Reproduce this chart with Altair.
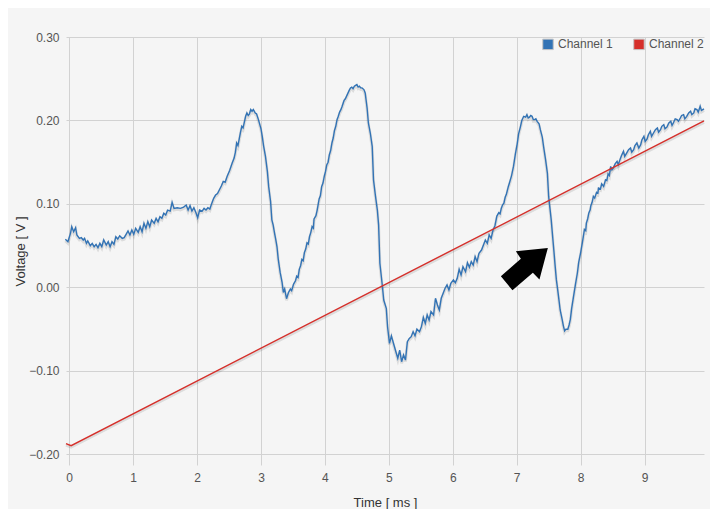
import altair as alt
import pandas as pd

# ---- data ----
series_names = ["Channel 1", "Channel 2"]
series_colors = ["#3273b5", "#d62f2a"]

ch1 = [
    # slow wander, 0 - 2.3 ms
    (-0.06, 0.0576), (-0.02, 0.0548), (0.02, 0.0648), (0.04, 0.0727), (0.07, 0.0667),
    (0.10, 0.0715), (0.12, 0.0628), (0.16, 0.0588), (0.19, 0.0596), (0.22, 0.0568),
    (0.24, 0.0588), (0.27, 0.0528), (0.29, 0.0556), (0.33, 0.0500), (0.36, 0.0528),
    (0.39, 0.0488), (0.42, 0.0516), (0.45, 0.0476), (0.48, 0.0528), (0.51, 0.0488),
    (0.54, 0.0568), (0.58, 0.0508), (0.61, 0.0548), (0.64, 0.0488), (0.67, 0.0548),
    (0.70, 0.0516), (0.73, 0.0607), (0.76, 0.0580), (0.79, 0.0619), (0.83, 0.0588),
    (0.86, 0.0596), (0.89, 0.0636), (0.92, 0.0676), (0.95, 0.0628), (0.98, 0.0688),
    (1.01, 0.0636), (1.04, 0.0708), (1.08, 0.0660), (1.11, 0.0727), (1.14, 0.0667),
    (1.17, 0.0768), (1.20, 0.0708), (1.23, 0.0787), (1.26, 0.0727), (1.29, 0.0807),
    (1.33, 0.0768), (1.36, 0.0828), (1.39, 0.0787), (1.42, 0.0847), (1.45, 0.0828),
    (1.48, 0.0888), (1.51, 0.0867), (1.54, 0.0927), (1.58, 0.0915), (1.61, 0.1019),
    (1.64, 0.0947), (1.69, 0.0955), (1.74, 0.0947), (1.79, 0.0963), (1.83, 0.0987),
    (1.86, 0.0927), (1.89, 0.0979), (1.92, 0.0915), (1.95, 0.0955), (1.98, 0.0900),
    (2.01, 0.0835), (2.04, 0.0927), (2.08, 0.0915), (2.11, 0.0947), (2.14, 0.0927),
    (2.17, 0.0955), (2.20, 0.0939), (2.23, 0.1007), (2.26, 0.1067), (2.29, 0.1107),
    # first peak
    (2.32, 0.1125), (2.35, 0.117), (2.38, 0.1215), (2.41, 0.127), (2.44, 0.126),
    (2.47, 0.133), (2.51, 0.140), (2.55, 0.149), (2.58, 0.155), (2.60, 0.162),
    (2.62, 0.173), (2.64, 0.170), (2.66, 0.178), (2.68, 0.186), (2.70, 0.193),
    (2.72, 0.191), (2.74, 0.198), (2.76, 0.205), (2.78, 0.209), (2.80, 0.206),
    (2.82, 0.208), (2.84, 0.213), (2.86, 0.211), (2.88, 0.213), (2.91, 0.209),
    (2.93, 0.208), (2.96, 0.201), (3.00, 0.190), (3.02, 0.181), (3.04, 0.170),
    (3.07, 0.157), (3.10, 0.139), (3.12, 0.121), (3.15, 0.103), (3.17, 0.081),
    (3.19, 0.075), (3.21, 0.066), (3.23, 0.058), (3.25, 0.049), (3.27, 0.034),
    (3.30, 0.018), (3.33, 0.006), (3.35, -0.006), (3.37, -0.002), (3.40, -0.0135),
    (3.43, -0.006), (3.46, -0.002), (3.48, -0.004), (3.51, 0.004), (3.54, 0.008),
    (3.56, 0.0135), (3.58, 0.012), (3.60, 0.022), (3.62, 0.026), (3.64, 0.0335),
    (3.66, 0.032), (3.68, 0.042), (3.70, 0.046), (3.72, 0.0535), (3.74, 0.052),
    (3.76, 0.061), (3.78, 0.066), (3.80, 0.073), (3.82, 0.071), (3.83, 0.082),
    (3.86, 0.086), (3.88, 0.093), (3.91, 0.106), (3.93, 0.110), (3.95, 0.121),
    (3.97, 0.125), (3.99, 0.133), (4.01, 0.139), (4.03, 0.147), (4.05, 0.150),
    (4.07, 0.159), (4.09, 0.164), (4.11, 0.173), (4.13, 0.179), (4.15, 0.188),
    (4.17, 0.193), (4.19, 0.201), (4.21, 0.205), (4.23, 0.210), (4.25, 0.213),
    (4.27, 0.217), (4.30, 0.224), (4.32, 0.226), (4.35, 0.231), (4.38, 0.236),
    (4.40, 0.239), (4.42, 0.240), (4.44, 0.238), (4.46, 0.241), (4.48, 0.242),
    (4.50, 0.243), (4.52, 0.240), (4.54, 0.241), (4.56, 0.239), (4.58, 0.239),
    (4.61, 0.237), (4.63, 0.233), (4.66, 0.215), (4.68, 0.197), (4.71, 0.185),
    (4.74, 0.169), (4.76, 0.129), (4.79, 0.110), (4.82, 0.093), (4.84, 0.075),
    # deep trough and slow noisy climb
    (4.86, 0.0289), (4.90, 0.0008), (4.92, -0.0151), (4.96, -0.025), (4.98, -0.0471),
    (5.01, -0.067), (5.04, -0.0582), (5.08, -0.069), (5.11, -0.077), (5.14, -0.0849),
    (5.17, -0.075), (5.20, -0.089), (5.23, -0.081), (5.26, -0.087), (5.29, -0.065),
    (5.32, -0.061), (5.35, -0.059), (5.38, -0.053), (5.41, -0.058), (5.44, -0.050),
    (5.48, -0.053), (5.51, -0.047), (5.54, -0.036), (5.57, -0.043), (5.60, -0.033),
    (5.63, -0.039), (5.66, -0.029), (5.70, -0.033), (5.73, -0.013), (5.76, -0.021),
    (5.79, -0.027), (5.82, -0.013), (5.85, -0.007), (5.88, -0.001), (5.91, 0.003),
    (5.94, -0.003), (5.97, 0.005), (6.01, 0.009), (6.04, 0.0056), (6.07, 0.0109),
    (6.10, 0.0217), (6.13, 0.0149), (6.16, 0.0248), (6.20, 0.0188), (6.23, 0.0296),
    (6.26, 0.0241), (6.29, 0.0308), (6.32, 0.0268), (6.35, 0.0368), (6.38, 0.0308),
    (6.41, 0.0408), (6.45, 0.0448), (6.48, 0.0508), (6.51, 0.0568), (6.54, 0.0528),
    (6.57, 0.0628), (6.60, 0.0588), (6.63, 0.0688), (6.66, 0.074), (6.69, 0.0855),
    (6.72, 0.0895), (6.74, 0.088), (6.76, 0.095), (6.78, 0.099), (6.80, 0.101),
    (6.82, 0.108), (6.84, 0.112), (6.87, 0.121), (6.89, 0.126), (6.92, 0.134),
    (6.95, 0.145), (6.98, 0.160), (7.01, 0.173), (7.03, 0.184), (7.06, 0.193),
    (7.08, 0.200), (7.11, 0.205), (7.14, 0.204), (7.16, 0.207), (7.18, 0.203),
    (7.20, 0.204), (7.22, 0.206), (7.24, 0.205), (7.26, 0.201), (7.28, 0.201),
    (7.30, 0.202), (7.32, 0.199), (7.35, 0.196), (7.37, 0.189), (7.40, 0.180),
    (7.42, 0.169), (7.45, 0.154), (7.48, 0.137), (7.50, 0.109), (7.52, 0.095),
    (7.54, 0.081), (7.56, 0.063), (7.58, 0.0455), (7.60, 0.027), (7.62, 0.0096),
    (7.64, -0.002), (7.66, -0.0144), (7.68, -0.027), (7.71, -0.038), (7.73, -0.046),
    (7.75, -0.052), (7.77, -0.050), (7.80, -0.050), (7.82, -0.045), (7.84, -0.038),
    (7.86, -0.025), (7.89, -0.0104), (7.92, 0.004), (7.95, 0.0176), (7.97, 0.030),
    (8.00, 0.0415), (8.03, 0.055), (8.06, 0.0695), (8.08, 0.068), (8.09, 0.077),
    (8.11, 0.082), (8.13, 0.0895), (8.15, 0.093), (8.16, 0.098), (8.18, 0.102),
    (8.20, 0.109), (8.22, 0.107), (8.25, 0.114), (8.27, 0.113), (8.28, 0.119),
    (8.31, 0.118), (8.33, 0.124), (8.36, 0.121), (8.39, 0.129), (8.41, 0.128),
    (8.43, 0.136), (8.45, 0.134), (8.47, 0.145), (8.49, 0.141), (8.51, 0.143),
    (8.54, 0.148), (8.57, 0.151), (8.59, 0.147), (8.62, 0.154), (8.64, 0.158),
    (8.67, 0.163), (8.69, 0.157), (8.72, 0.161), (8.75, 0.165), (8.78, 0.167),
    (8.80, 0.162), (8.83, 0.165), (8.85, 0.170), (8.88, 0.173), (8.91, 0.167),
    (8.94, 0.171), (8.96, 0.177), (8.99, 0.181), (9.01, 0.175), (9.04, 0.178),
    (9.06, 0.183), (9.09, 0.187), (9.11, 0.181), (9.14, 0.185), (9.17, 0.189),
    (9.20, 0.191), (9.22, 0.186), (9.25, 0.189), (9.27, 0.193), (9.30, 0.195),
    (9.32, 0.190), (9.35, 0.192), (9.38, 0.197), (9.41, 0.199), (9.43, 0.194),
    (9.45, 0.197), (9.48, 0.202), (9.51, 0.201), (9.53, 0.199), (9.56, 0.203),
    (9.58, 0.206), (9.61, 0.207), (9.63, 0.202), (9.66, 0.205), (9.69, 0.209),
    (9.72, 0.211), (9.74, 0.207), (9.77, 0.209), (9.79, 0.214), (9.82, 0.213),
    (9.84, 0.210), (9.87, 0.217), (9.89, 0.212), (9.91, 0.213), (9.93, 0.214),
]
ch2 = [(-0.05, -0.187), (0.03, -0.1895), (9.93, 0.1995)]

x_ticks = [0, 1, 2, 3, 4, 5, 6, 7, 8, 9]
y_ticks = [-0.2, -0.1, 0.0, 0.1, 0.2, 0.3]
x_domain = [-0.05, 9.93]
y_domain = [-0.2127, 0.30]

# annotation arrow (centre in data units)
arrow_t = [7.12]
arrow_v = [0.022]
arrow_path = ("M0.979,-0.883 L-0.354,-0.742 L-0.146,-0.425 L-0.979,0.300 "
              "L-0.496,0.883 L0.354,0.158 L0.629,0.438 Z")

rows = [{"t": t, "v": v, "series": series_names[0], "order": i} for i, (t, v) in enumerate(ch1)]
rows += [{"t": t, "v": v, "series": series_names[1], "order": i} for i, (t, v) in enumerate(ch2)]
df = pd.DataFrame(rows)
df_arrow = pd.DataFrame({"t": arrow_t, "v": arrow_v})

x_enc = alt.X("t:Q", scale=alt.Scale(domain=x_domain, nice=False, zero=False),
              axis=alt.Axis(values=x_ticks, format="d", title="Time [ ms ]",
                            titleY=37, titleBaseline="middle"))
y_enc = alt.Y("v:Q", scale=alt.Scale(domain=y_domain, nice=False, zero=False),
              axis=alt.Axis(values=y_ticks, format=".2f", title="Voltage [ V ]",
                            titleX=-46, titleY=214, titleAngle=270,
                            titleBaseline="middle", titleAlign="center"))

base = alt.Chart(df)

shadow = base.mark_line(color="black", opacity=0.10, strokeWidth=3, yOffset=1.5).encode(
    x=x_enc, y=y_enc, detail="series:N", order="order:Q"
)

lines = base.mark_line(strokeWidth=1.4).encode(
    x=x_enc, y=y_enc,
    stroke=alt.Stroke("series:N", scale=alt.Scale(domain=series_names, range=series_colors), legend=None),
    order="order:Q",
)

legend_layer = base.mark_square(opacity=0).encode(
    x=x_enc, y=y_enc,
    fill=alt.Fill("series:N", scale=alt.Scale(domain=series_names, range=series_colors),
                  legend=alt.Legend(title=None, orient="none", legendX=476, legendY=1,
                                    direction="horizontal", symbolType="square",
                                    symbolSize=110, symbolOpacity=1,
                                    symbolStrokeColor="#c4c4c4", symbolStrokeWidth=1,
                                    labelFont="Liberation Sans", labelFontSize=12,
                                    labelColor="#545454", labelOffset=4,
                                    columnPadding=18, padding=0)),
)

arrow = alt.Chart(df_arrow).mark_point(shape=arrow_path, filled=True, color="black",
                                       size=2304, opacity=1, strokeWidth=0).encode(
    x=alt.X("t:Q"), y=alt.Y("v:Q")
)

chart = alt.layer(shadow, lines, legend_layer, arrow).resolve_scale(
    fill="independent", stroke="independent"
).properties(
    width=638, height=428,
    autosize=alt.AutoSizeParams(type="none"),
    padding={"left": 58, "top": 29, "right": 6, "bottom": 44},
    background="#f5f5f5",
).configure_view(stroke=None, fill="#f5f5f5").configure_axis(
    grid=True, gridColor="#d2d2d2", gridWidth=1, domain=False, ticks=False,
    labelFont="Liberation Sans", labelFontSize=12, labelColor="#545454",
    titleFont="Liberation Sans", titleFontSize=13, titleColor="#333333",
    titleFontWeight="normal", labelPadding=7,
)

chart.save("out.html", embed_options={"renderer": "svg", "actions": False})
